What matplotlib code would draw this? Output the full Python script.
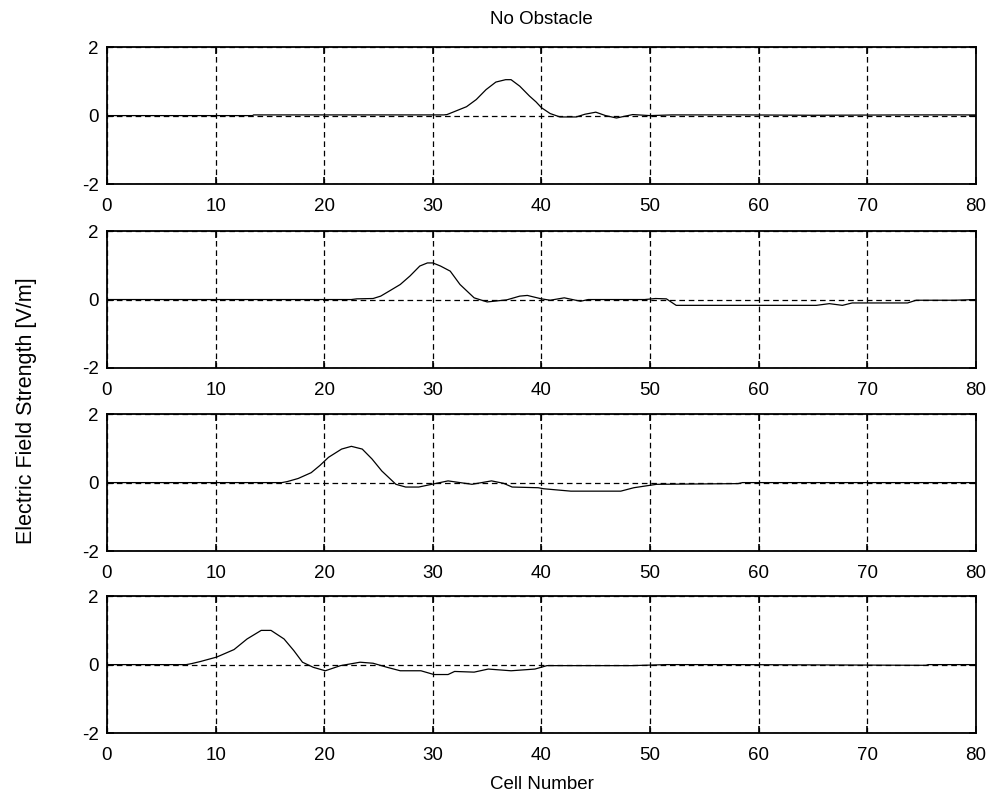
import numpy as np
import matplotlib
matplotlib.use('Agg')
import matplotlib.pyplot as plt

plt.rcParams['font.family'] = ['Liberation Sans', 'DejaVu Sans']
plt.rcParams['axes.unicode_minus'] = False

# cell positions and field values, one pair per panel
x1 = [0, 13.4, 13.5, 31.0, 31.3, 33.1, 34.0, 34.9, 35.8, 36.7, 37.2, 38.0, 38.9, 39.5,
      40.0, 40.8, 41.7, 43.2, 44.0, 45.0, 45.9, 46.9, 48.4, 50, 52, 58.5, 65, 74, 79, 80]
y1 = [0, 0, 0.02, 0.02, 0.03, 0.26, 0.47, 0.76, 0.98, 1.05, 1.05, 0.86, 0.57, 0.40,
      0.23, 0.06, -0.04, -0.04, 0.04, 0.10, 0.0, -0.07, 0.03, 0.0, 0.02, 0.02, 0.01, 0.02, 0.02, 0.02]

x2 = [0, 22.5, 23.0, 24.5, 25.2, 26.0, 27.0, 27.9, 28.8, 29.5, 30.0, 30.7, 31.6, 32.5,
      33.8, 35.0, 36.8, 38.0, 38.7, 40.0, 40.8, 42.1, 43.6, 44.3, 49.5, 50.5, 51.5,
      52.4, 65.3, 66.5, 67.7, 68.6, 73.7, 74.5, 78, 80]
y2 = [0, 0, 0.02, 0.03, 0.10, 0.25, 0.44, 0.69, 0.98, 1.07, 1.07, 0.98, 0.83, 0.44,
      0.05, -0.07, -0.01, 0.10, 0.12, 0.02, -0.02, 0.05, -0.05, 0.0, 0.0, 0.03, 0.02,
      -0.17, -0.17, -0.12, -0.17, -0.10, -0.10, -0.02, -0.02, 0.0]

x3 = [0, 16.1, 16.6, 17.6, 18.8, 19.6, 20.4, 21.6, 22.5, 23.5, 24.4, 25.3, 26.6, 27.5,
      28.7, 30.5, 31.4, 33.6, 35.4, 36.5, 37.3, 39.7, 40.2, 42.7, 47.3, 48.5, 50.6,
      58.1, 58.5, 80]
y3 = [0, 0, 0.03, 0.12, 0.29, 0.50, 0.74, 0.98, 1.06, 0.98, 0.69, 0.34, -0.05, -0.13,
      -0.13, -0.01, 0.05, -0.05, 0.05, -0.02, -0.13, -0.15, -0.18, -0.25, -0.25, -0.15,
      -0.05, -0.03, 0.0, 0.0]

x4 = [0, 7.3, 7.8, 8.6, 10.1, 11.7, 12.9, 14.2, 15.1, 16.3, 17.2, 18.0, 19.0, 20.1,
      21.5, 23.3, 24.5, 25.8, 27.0, 28.9, 30.1, 31.4, 32.0, 33.8, 35.1, 37.2, 39.4,
      40.5, 48.3, 51.5, 57.5, 75.4, 75.6, 80]
y4 = [0, 0, 0.03, 0.09, 0.22, 0.44, 0.75, 1.0, 1.0, 0.75, 0.41, 0.07, -0.08, -0.18,
      -0.03, 0.07, 0.04, -0.08, -0.18, -0.18, -0.29, -0.29, -0.2, -0.22, -0.13, -0.18,
      -0.13, -0.03, -0.03, 0.0, 0.0, -0.02, 0.0, 0.0]

xs = [x1, x2, x3, x4]
ys = [y1, y2, y3, y4]
xticks = [0, 10, 20, 30, 40, 50, 60, 70, 80]
yticks = [-2, 0, 2]

fig = plt.figure(figsize=(9.94, 8.05), dpi=100)
bottoms = [0.7714, 0.5429, 0.3155, 0.0894]

for i in range(4):
    ax = fig.add_axes([0.1076, bottoms[i], 0.8743, 0.170])
    ax.plot(xs[i], ys[i], color='black', linewidth=0.9)
    ax.set_xlim(0, 80)
    ax.set_ylim(-2, 2)
    ax.set_xticks(xticks)
    ax.set_yticks(yticks)
    ax.grid(True, color='black', linestyle=(0, (4.5, 3)), linewidth=0.9)
    ax.tick_params(direction='in', top=True, right=True, length=5, width=1.2,
                   labelsize=13.5)
    ax.tick_params(axis='x', pad=10)
    ax.tick_params(axis='y', pad=6)
    for s in ax.spines.values():
        s.set_linewidth(1.3)
    if i == 0:
        ax.set_title('No Obstacle', fontsize=13.5, pad=17)
    if i == 3:
        ax.set_xlabel('Cell Number', fontsize=13.5, labelpad=9)

fig.text(0.027, 0.49, 'Electric Field Strength [V/m]', rotation=90, fontsize=15.5,
         ha='center', va='center')

fig.savefig('out.png', dpi=100)
